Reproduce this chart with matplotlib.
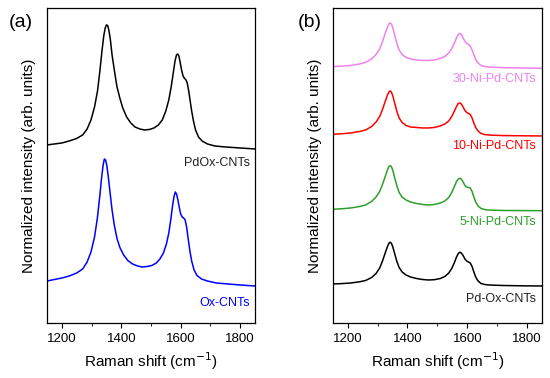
import matplotlib
matplotlib.use("Agg")
import matplotlib.pyplot as plt
from matplotlib.ticker import MultipleLocator

plt.rcParams['font.family'] = ['Liberation Sans', 'DejaVu Sans']

# Raman shift (cm-1) and intensities (offsets included)
x_a1 = [1150, 1175, 1200, 1225, 1250, 1270, 1285, 1298, 1310, 1320, 1328, 1335, 1341,
        1346, 1350, 1354, 1358, 1363, 1369, 1376, 1385, 1395, 1405, 1418, 1432, 1446,
        1462, 1478, 1495, 1510, 1525, 1538, 1550, 1560, 1568, 1575, 1581, 1586, 1590,
        1594, 1598, 1603, 1608, 1613, 1618, 1622, 1627, 1632, 1637, 1643, 1650, 1660,
        1672, 1690, 1715, 1750, 1800, 1850]
pdox = [178, 179, 180, 182, 184.5, 188, 194, 203, 216, 232, 252, 272, 287,
        295, 298, 297.5, 293, 284, 268, 254, 237, 225, 215, 206, 200, 196,
        194, 193, 193.5, 195, 198, 203, 212, 223, 236, 250, 262, 268, 269,
        267, 261, 253, 247, 244.5, 243, 240, 232, 222, 212, 202, 193, 186,
        182, 179, 177, 176, 175, 174]

x_a2 = [1150, 1175, 1200, 1225, 1250, 1270, 1285, 1298, 1310, 1320, 1328, 1334, 1339,
        1343, 1347, 1351, 1356, 1362, 1369, 1377, 1386, 1396, 1408, 1422, 1438, 1455,
        1470, 1487, 1503, 1518, 1530, 1542, 1552, 1560, 1567, 1573, 1578, 1582, 1586,
        1590, 1595, 1600, 1605, 1610, 1615, 1620, 1625, 1631, 1637, 1645, 1655, 1670,
        1690, 1720, 1760, 1800, 1850]
oxcnt = [42, 43.5, 45, 47, 50, 54, 61, 71, 86, 106, 128, 146, 158,
         164, 163, 158, 147, 131, 113, 97, 84, 75, 68, 62.5, 59, 57,
         56, 56.5, 57.5, 60, 64, 70, 79, 90, 104, 118, 127, 131, 129,
         124, 116, 109, 106, 105, 103, 96, 85, 72, 62, 53, 47.5, 44,
         42, 40, 39, 38, 37]

x_b = [1150, 1180, 1210, 1240, 1260, 1280, 1295, 1307, 1317, 1326, 1333, 1338, 1342,
       1346, 1351, 1357, 1364, 1372, 1382, 1395, 1410, 1430, 1450, 1470, 1490, 1510,
       1525, 1538, 1548, 1557, 1564, 1570, 1575, 1580, 1586, 1592, 1598, 1604, 1610,
       1616, 1622, 1628, 1636, 1646, 1660, 1680, 1720, 1780, 1850]
ni30 = [256.3, 256.8, 257.5, 259, 260.5, 264, 268.5, 274, 282, 290, 296, 299, 300,
        299, 295, 288, 280, 273, 268.5, 265.5, 264, 263, 262.5, 262.5, 263, 264.5,
        266.5, 270, 274.5, 280, 285, 288.5, 289.5, 288.5, 285, 281.5, 279.5, 278.5, 277,
        273, 268, 263.5, 260, 257.5, 256.3, 255.8, 255.3, 255, 254.7]
ni10 = [188.7, 189.2, 190, 191.5, 193, 196.5, 201, 206.5, 214, 222, 228, 231, 232,
        231, 227, 220, 212, 205, 200.5, 197.5, 196, 195.5, 195, 195, 195.5, 197,
        199, 202, 206.5, 212, 216.5, 219.5, 220, 219, 216, 212.5, 210.5, 209.5, 208.5,
        205, 200, 195.5, 192, 189.5, 188.3, 187.8, 187.4, 187.2, 187]
ni5 = [113.7, 114.2, 115, 116.5, 118, 121.5, 126, 131.5, 139, 147, 153, 156.5, 157.3,
       156.5, 152.5, 145.5, 137.5, 130.5, 126, 123, 121, 119.5, 118.5, 118, 118.5, 120,
       122, 125.5, 130.5, 136.5, 141.5, 144, 144.7, 144, 141, 137.5, 136, 135.5, 135,
       131.5, 126, 121, 117, 114.5, 113.3, 112.8, 112.5, 112.4, 112.3]
pdoxb = [39, 39.4, 40, 41.2, 42.5, 45.5, 49.5, 55, 62.5, 70.5, 76.5, 79.8, 80.7,
         79.8, 76, 69.5, 62, 55.5, 51, 48, 46, 44.5, 43.5, 43, 43.3, 44.5,
         46.5, 50, 54.5, 60.5, 66, 69.5, 70.7, 70, 67.5, 64, 62, 61, 60,
         56.5, 51, 46, 42, 39.5, 38.4, 37.9, 37.5, 37.2, 37]

fig = plt.figure(figsize=(5.5, 3.78), dpi=100)
ax1 = fig.add_axes([0.0855, 0.1455, 0.378, 0.8335])
ax2 = fig.add_axes([0.605, 0.1455, 0.3805, 0.8335])

ax1.plot(x_a1, pdox, color="black", lw=1.1)
ax1.plot(x_a2, oxcnt, color="blue", lw=1.1)
ax1.text(1835, 160, "PdOx-CNTs", color="#222222", fontsize=9, ha="right", va="center")
ax1.text(1835, 20, "Ox-CNTs", color="blue", fontsize=9, ha="right", va="center")

ax2.plot(x_b, ni30, color="violet", lw=1.1)
ax2.plot(x_b, ni10, color="red", lw=1.1)
ax2.plot(x_b, ni5, color="#2ca02c", lw=1.1)
ax2.plot(x_b, pdoxb, color="black", lw=1.1)
ax2.text(1830, 244, "30-Ni-Pd-CNTs", color="violet", fontsize=9, ha="right", va="center")
ax2.text(1830, 177, "10-Ni-Pd-CNTs", color="red", fontsize=9, ha="right", va="center")
ax2.text(1830, 101, "5-Ni-Pd-CNTs", color="#2ca02c", fontsize=9, ha="right", va="center")
ax2.text(1830, 24, "Pd-Ox-CNTs", color="#222222", fontsize=9, ha="right", va="center")

for ax in (ax1, ax2):
    ax.set_xlim(1150, 1850)
    ax.set_ylim(0, 315)
    ax.xaxis.set_major_locator(MultipleLocator(200))
    ax.xaxis.set_minor_locator(MultipleLocator(100))
    ax.tick_params(axis="x", which="major", direction="out", length=3.5, labelsize=9.5)
    ax.tick_params(axis="x", which="minor", direction="out", length=2)
    ax.set_yticks([])
    ax.set_xlabel("Raman shift (cm$^{-1}$)", fontsize=11, labelpad=4)
    ax.set_ylabel("Normalized intensity (arb. units)", fontsize=11, labelpad=8)
    for s in ax.spines.values():
        s.set_linewidth(0.9)

fig.text(0.038, 0.94, "(a)", fontsize=14, ha="center", va="center")
fig.text(0.564, 0.94, "(b)", fontsize=14, ha="center", va="center")

fig.savefig("out.png", dpi=100)
